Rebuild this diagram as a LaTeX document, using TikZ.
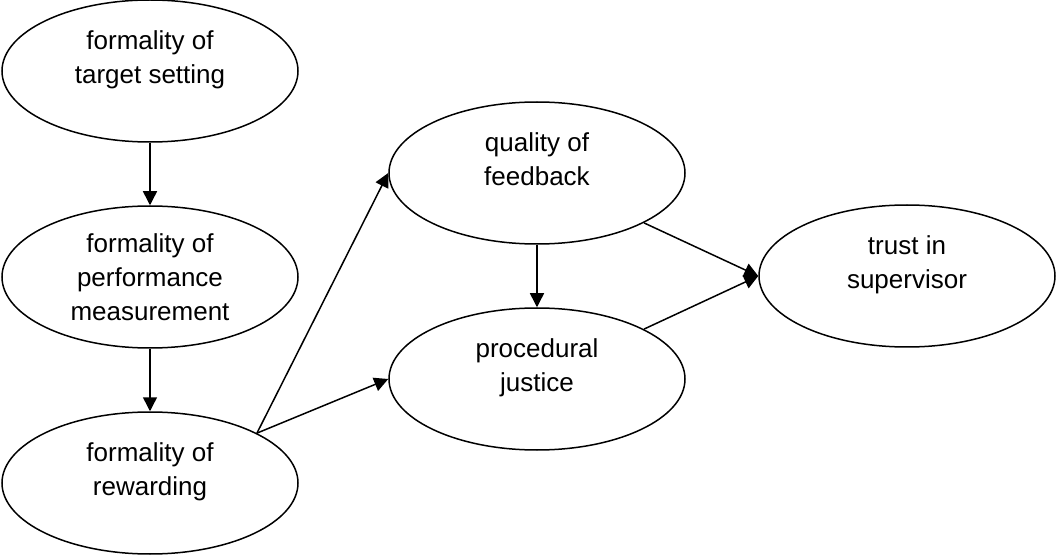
\documentclass[tikz,border=0pt]{standalone}
\usepackage{fontspec}
\setmainfont{Liberation Sans}
\usetikzlibrary{arrows.meta,positioning,shapes.geometric}

\begin{document}
\begin{tikzpicture}[node distance=103pt,on grid,>={Triangle[length=7pt,width=7pt]},
    every node/.style={font=\fontsize{13}{17}\selectfont},
    var/.style={ellipse,draw,line width=0.75pt,minimum width=148pt,minimum height=71pt,inner sep=0pt,align=center},
    twoline/.style={text depth=13.5pt}]
  \useasboundingbox (-75pt,35.5pt) rectangle (453.5pt,-243pt);
  \node[var,twoline] (target)                                      {formality of\\target setting};
  \node[var]         (measure)   [below=of target]                 {formality of\\performance\\measurement};
  \node[var,twoline] (rewarding) [below=of measure]                {formality of\\rewarding};
  \node[var,twoline] (feedback)  [above right=52pt and 193.5pt of measure] {quality of\\feedback};
  \node[var,twoline] (justice)   [below=of feedback]               {procedural\\justice};
  \node[var,twoline] (trust)     [above right=51.5pt and 185pt of justice] {trust in\\supervisor};
  \path[->,line width=0.75pt] (target) edge (measure)
            (measure) edge (rewarding)
            (rewarding.25) edge (feedback.west)
            (rewarding.25) edge (justice.west)
            (feedback) edge (justice)
            (feedback.-25) edge (trust.west)
            (justice.25) edge (trust.west);
\end{tikzpicture}
\end{document}
